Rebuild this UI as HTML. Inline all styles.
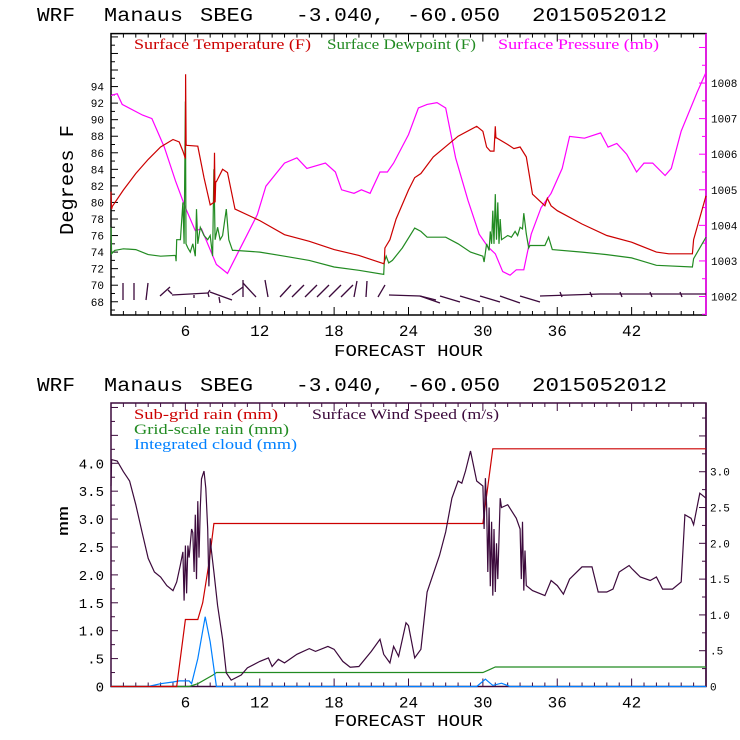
<!DOCTYPE html>
<html><head><meta charset="utf-8">
<style>
html,body{margin:0;padding:0;background:#fff;}
svg{display:block;}
text{font-family:"Liberation Mono",monospace;}
.leg{font-family:"Liberation Serif",serif;font-size:15px;}
</style></head>
<body>
<svg id="chart" width="740" height="740" viewBox="0 0 740 740" xmlns="http://www.w3.org/2000/svg">
<rect width="740" height="740" fill="#fff"/>
<g font-size="19">
<text x="37" y="21" textLength="38" lengthAdjust="spacingAndGlyphs">WRF</text>
<text x="104" y="21" textLength="79" lengthAdjust="spacingAndGlyphs">Manaus</text>
<text x="200" y="21" textLength="53" lengthAdjust="spacingAndGlyphs">SBEG</text>
<text x="296" y="21" textLength="89" lengthAdjust="spacingAndGlyphs">-3.040,</text>
<text x="407" y="21" textLength="93" lengthAdjust="spacingAndGlyphs">-60.050</text>
<text x="532" y="21" textLength="135" lengthAdjust="spacingAndGlyphs">2015052012</text>
</g>
<g font-size="19">
<text x="37" y="391" textLength="38" lengthAdjust="spacingAndGlyphs">WRF</text>
<text x="104" y="391" textLength="79" lengthAdjust="spacingAndGlyphs">Manaus</text>
<text x="200" y="391" textLength="53" lengthAdjust="spacingAndGlyphs">SBEG</text>
<text x="296" y="391" textLength="89" lengthAdjust="spacingAndGlyphs">-3.040,</text>
<text x="407" y="391" textLength="93" lengthAdjust="spacingAndGlyphs">-60.050</text>
<text x="532" y="391" textLength="135" lengthAdjust="spacingAndGlyphs">2015052012</text>
</g>
<g id="top"></g>
<g id="bot"></g>
<text x="334" y="356" font-size="17" textLength="149" lengthAdjust="spacingAndGlyphs">FORECAST HOUR</text>
<text x="334" y="726" font-size="17" textLength="149" lengthAdjust="spacingAndGlyphs">FORECAST HOUR</text>
<text transform="translate(73,235) rotate(-90)" font-size="19" textLength="110" lengthAdjust="spacingAndGlyphs">Degrees F</text>
<text transform="translate(68,536) rotate(-90)" font-size="15" textLength="30" lengthAdjust="spacingAndGlyphs">mm</text>
<text class="leg" x="134" y="49" fill="#cc0000" textLength="177" lengthAdjust="spacingAndGlyphs">Surface Temperature (F)</text>
<text class="leg" x="327" y="49" fill="#228b22" textLength="149" lengthAdjust="spacingAndGlyphs">Surface Dewpoint (F)</text>
<text class="leg" x="498" y="49" fill="#ff00ff" textLength="161" lengthAdjust="spacingAndGlyphs">Surface Pressure (mb)</text>
<text class="leg" x="134" y="419" fill="#cc0000" textLength="144" lengthAdjust="spacingAndGlyphs">Sub-grid rain (mm)</text>
<text class="leg" x="312" y="419" fill="#3c0a3c" textLength="187" lengthAdjust="spacingAndGlyphs">Surface Wind Speed (m/s)</text>
<text class="leg" x="134" y="434" fill="#228b22" textLength="155" lengthAdjust="spacingAndGlyphs">Grid-scale rain (mm)</text>
<text class="leg" x="134" y="449" fill="#0080ff" textLength="163" lengthAdjust="spacingAndGlyphs">Integrated cloud (mm)</text>
</svg>
<script>
const xTicks=[6,12,18,24,30,36,42];
const tempTicks=[68,70,72,74,76,78,80,82,84,86,88,90,92,94];
const presTicks=[1002,1003,1004,1005,1006,1007,1008];
const mmTicks=[0,0.5,1,1.5,2,2.5,3,3.5,4];
const mmTickLabels=["0",".5","1.0","1.5","2.0","2.5","3.0","3.5","4.0"];
const windTicks=[0,0.5,1,1.5,2,2.5,3];
const windTickLabels=["0",".5","1.0","1.5","2.0","2.5","3.0"];

const tempHours=[0,0.05,0.1,1,2,3,4,5,5.5,5.8,6,6.02,6.06,6.1,7,7.5,8,8.3,8.35,8.4,8.45,8.5,9,9.4,10,12,14,16,18,20,22,22.05,22.1,22.5,23,24,24.5,25,26,28,29.5,30,30.3,30.6,30.9,31,31.05,31.1,32,32.5,33,33.5,34,35,35.2,35.5,36,38,40,42,44,45,46.9,47,48];
const tempValues=[81.3,79.2,79.5,81.5,83.5,85.2,86.7,87.6,87.3,86.2,85.3,95.5,87,86.9,86.8,83,79.7,80,86,80,82.5,82.5,84,83.6,79.2,77.8,76.1,75.3,74.3,73.6,72.6,72.8,74.5,75.5,78,81.5,83,83.5,85.5,88,89.2,88.6,86.7,86.2,86.2,89.2,87.8,87.8,87,86.5,86.7,85.5,81,79.6,80.5,79.6,79,77.4,76,75.2,74,73.8,73.8,75.5,80.8];
const dewHours=[0,0.05,0.3,1,2,3,4,5.2,5.25,5.3,5.6,5.8,5.9,6.0,6.05,6.2,6.4,6.6,6.8,6.9,7.0,7.2,7.5,7.8,8.0,8.2,8.3,8.4,8.6,8.8,9.0,9.3,9.5,9.8,10,12,14,16,18,20,22,22.05,22.2,22.4,22.7,23.5,24.5,25,25.5,27,28,29,30,30.1,30.3,30.5,30.6,30.7,30.8,30.9,31.0,31.1,31.2,31.3,31.4,31.5,32,32.3,32.6,32.8,33.0,33.2,33.3,33.5,33.7,33.8,35,35.3,35.6,38,40,42,44,46.9,47,48];
const dewValues=[77,73.8,74.2,74.4,74.3,73.7,73.5,73.6,72.9,75.5,75.5,80,75,92.2,75,74.5,74,75,73.5,79.2,75,77,76,75.5,76,73.5,84,75.5,77,75.5,76,79.2,75.5,74.2,74.2,74,73.5,73,72.2,71.8,71.3,72.8,73.5,72.7,73,74.5,76.9,76.5,75.8,75.8,75,74,73.5,72.8,75,74.2,76.5,75,79,75,81,75.5,80,75,78,75.5,76,75.8,76.5,76,77,76.8,78.7,76.2,74.5,74.8,74.8,75.8,74.3,74,73.7,73.3,72.4,72.2,73.2,75.8];
const presHours=[0,0.5,0.9,2.55,3.3,4.3,5.2,6,6.8,7.3,7.9,8.5,9.4,10.2,11,11.8,12.5,13.3,14,15,15.8,17.3,18.1,18.6,19.6,20.2,20.9,21.7,22.3,22.8,24,24.8,25.5,26.3,27,27.8,28.8,29.7,30.4,31,31.6,32.2,32.7,33.3,33.9,34.7,35.5,36.4,37,38.2,39.5,40.1,40.8,41.6,42.4,43,43.7,44.7,45.2,46,47.3,48];
const presValues=[1007.65,1007.7,1007.4,1007.1,1007.0,1006.2,1005.25,1004.5,1003.85,1003.9,1003.4,1002.9,1002.65,1003.2,1003.75,1004.3,1005.1,1005.45,1005.75,1005.9,1005.6,1005.75,1005.5,1005.0,1004.9,1005.0,1004.9,1005.5,1005.5,1005.75,1006.55,1007.3,1007.4,1007.45,1007.3,1005.9,1004.7,1003.75,1003.4,1003.2,1002.7,1002.6,1002.75,1002.75,1003.75,1004.5,1004.9,1005.6,1006.5,1006.45,1006.6,1006.2,1006.3,1006.0,1005.5,1005.75,1005.75,1005.4,1005.6,1006.65,1007.75,1008.3];

const subHours=[0,5.3,6,7,7.4,7.9,8.3,30,30.8,48];
const subValues=[0,0,1.2,1.2,1.5,2.2,2.92,2.92,4.26,4.26];
const gridHours=[0,6.3,7,8.2,8.5,30,30.5,31,48];
const gridValues=[0,0,0.05,0.2,0.25,0.25,0.3,0.35,0.35];
const cloudHours=[0,3,4,5,5.5,6.3,6.5,7,7.6,8,8.5,29.5,30.2,30.8,31.5,32.2,48];
const cloudValues=[0,0,0.05,0.08,0.1,0.1,0.05,0.5,1.25,0.8,0,0,0.13,0.02,0.06,0,0];
const windHours=[0,0.05,0.5,1,1.5,2,2.5,3,3.5,4,4.5,5,5.3,5.6,5.8,5.9,6.0,6.1,6.2,6.3,6.5,6.6,6.7,6.8,6.9,7.0,7.1,7.2,7.3,7.5,7.65,7.8,7.9,8.0,8.1,8.3,8.6,9,9.3,9.7,10.5,11,12,12.7,13,13.5,14,15,16,16.5,17.5,18,18.7,19.3,20,21,21.7,22,22.5,22.8,23.2,23.8,24,24.5,25,25.5,26.5,27,27.5,28,28.3,28.6,29,29.5,30,30.1,30.2,30.3,30.4,30.5,30.6,30.7,30.8,30.9,31.0,31.1,31.2,31.4,31.5,32,32.7,33.0,33.1,33.2,33.3,33.4,33.5,34,35,35.5,36,36.5,37,38,38.8,39.3,40,40.5,41,41.8,42,42.7,43.5,44,44.5,45.3,46,46.3,46.8,47,47.5,48];
const windValues=[2.8,3.17,3.15,3.0,2.87,2.54,2.16,1.79,1.6,1.53,1.41,1.34,1.46,1.7,1.88,1.2,1.97,1.3,1.97,1.8,2.2,2.15,1.6,2.4,1.5,2.59,1.8,2.5,2.9,3.01,2.77,2.2,1.4,2.07,1.9,1.6,1.13,0.66,0.19,0.09,0.16,0.26,0.35,0.4,0.28,0.38,0.33,0.45,0.53,0.49,0.56,0.52,0.35,0.27,0.28,0.49,0.66,0.45,0.33,0.56,0.42,0.89,0.85,0.4,0.52,1.32,1.83,2.16,2.63,2.87,2.84,3.01,3.29,2.87,2.8,2.2,2.91,2.54,1.6,2.5,1.4,2.3,1.27,2.2,1.32,2.0,1.5,2.63,2.5,2.54,2.35,2.2,1.5,2.3,1.34,1.9,1.41,1.34,1.27,1.48,1.41,1.29,1.5,1.67,1.67,1.32,1.32,1.36,1.6,1.69,1.65,1.53,1.48,1.53,1.36,1.36,1.46,2.4,2.35,2.26,2.7,2.63];

const NS='http://www.w3.org/2000/svg';
const L=111,R=706;
const xS=h=>L+(R-L)*h/48;
const T1=33.6,B1=315;
const yT=v=>B1-(v-66.4)/(100.4-66.4)*(B1-T1);
const yP=v=>B1-(v-1001.48)/(1009.39-1001.48)*(B1-T1);
const T2=403,B2=686.5;
const yM=v=>B2-v/5.08*(B2-T2);
const yW=v=>B2-v/3.96*(B2-T2);

function mk(parent,tag,attrs){const e=document.createElementNS(NS,tag);for(const k in attrs)e.setAttribute(k,attrs[k]);parent.appendChild(e);return e;}
function line(parent,hs,vs,yf,color,name){
  let d='';hs.forEach((h,i)=>{d+=(i?'L':'M')+xS(h).toFixed(1)+','+yf(vs[i]).toFixed(1);});
  const p=mk(parent,'path',{d:d,fill:'none',stroke:color,'stroke-width':1.2});
  
  
}
function axes(g,T,B,leftCol,rightCol,name){
  const fr=mk(g,'rect',{x:L,y:T,width:R-L,height:B-T,fill:'none',stroke:leftCol,'stroke-width':1.5});
  
  
  mk(g,'line',{x1:R,y1:T,x2:R,y2:B,stroke:rightCol,'stroke-width':1.5});
  for(let h=1;h<48;h++){const x=xS(h);const len=h%6===0?8:4;
    mk(g,'line',{x1:x,y1:B,x2:x,y2:B-len,stroke:leftCol,'stroke-width':1});
    mk(g,'line',{x1:x,y1:T,x2:x,y2:T+len,stroke:leftCol,'stroke-width':1});}
  xTicks.forEach(h=>{const t=mk(g,'text',{x:xS(h),y:B+21,'font-size':16,'text-anchor':'middle'});t.textContent=h;
    
    });
}
const gt=document.getElementById('top');
axes(gt,T1,B1,'#000','#ff00ff','top');
for(let v=67;v<=100;v++){const y=yT(v);mk(gt,'line',{x1:L,y1:y,x2:L+(v%2===0?7:4),y2:y,stroke:'#000','stroke-width':1});}
tempTicks.forEach(v=>{const t=mk(gt,'text',{x:104,y:yT(v)+4,'font-size':11,'text-anchor':'end'});t.textContent=v;
  
  });
for(let v=1001.5;v<=1009.3;v+=0.5){const y=yP(v);mk(gt,'line',{x1:R,y1:y,x2:R-(Number.isInteger(v)?7:4),y2:y,stroke:'#ff00ff','stroke-width':1});}
presTicks.forEach(v=>{const t=mk(gt,'text',{x:711,y:yP(v)+4,'font-size':11});t.textContent=v;
  
  });
line(gt,presHours,presValues,yP,'#ff00ff','pressure-line');
line(gt,dewHours,dewValues,yT,'#228b22','dewpoint-line');
line(gt,tempHours,tempValues,yT,'#cc0000','temperature-line');
const barbs=[[123,283,123,300],[134,283,134,300],[148,283,146,300],[160,296,170,287],[168,290,172,294],
[172,295,208,293],[208,293,209,297],[194,295,194,298],[208,293,210,290],[210,292,232,300],[219,297,220,303],
[232,295,243,287],[243,280,243,297],[243,283,256,297],[265,280,268,297],[280,297,291,285],[292,297,304,285],[305,297,317,285],[317,297,329,285],[329,297,341,285],[341,297,353,285],[354,297,357,281],[366,297,367,281],[378,297,385,285],
[389,295,420,296],[420,296,436,300],[420,296,440,303],[440,296,460,302],[460,296,480,302],[480,296,500,302],[500,296,520,303],[520,296,540,302],[540,296,600,294],[560,292,562,297],[590,292,592,297],[600,294,706,294],[620,292,622,297],[650,292,652,297],[680,292,682,297]];
barbs.forEach(b=>{const l=mk(gt,'line',{x1:b[0],y1:b[1],x2:b[2],y2:b[3],stroke:'#3c0a3c','stroke-width':1.3});
  
  });
const gb=document.getElementById('bot');
axes(gb,T2,B2,'#3c0a3c','#3c0a3c','bottom');
for(let v=0.25;v<5.08;v+=0.25){const y=yM(v);mk(gb,'line',{x1:L,y1:y,x2:L+(v*2%1===0?7:4),y2:y,stroke:'#3c0a3c','stroke-width':1});}
for(let v=0.25;v<3.96;v+=0.25){const y=yW(v);mk(gb,'line',{x1:R,y1:y,x2:R-(v*2%1===0?7:4),y2:y,stroke:'#3c0a3c','stroke-width':1});}
mmTicks.forEach((v,i)=>{const t=mk(gb,'text',{x:104,y:yM(v)+5,'font-size':14,'text-anchor':'end'});t.textContent=mmTickLabels[i];
  
  });
windTicks.forEach((v,i)=>{const t=mk(gb,'text',{x:710,y:yW(v)+4,'font-size':11});t.textContent=windTickLabels[i];
  
  });
line(gb,gridHours,gridValues,yM,'#228b22','grid-rain-line');
line(gb,cloudHours,cloudValues,yM,'#0080ff','cloud-line');
line(gb,subHours,subValues,yM,'#cc0000','subgrid-rain-line');
line(gb,windHours,windValues,yW,'#3c0a3c','wind-speed-line');
</script>
</body></html>
